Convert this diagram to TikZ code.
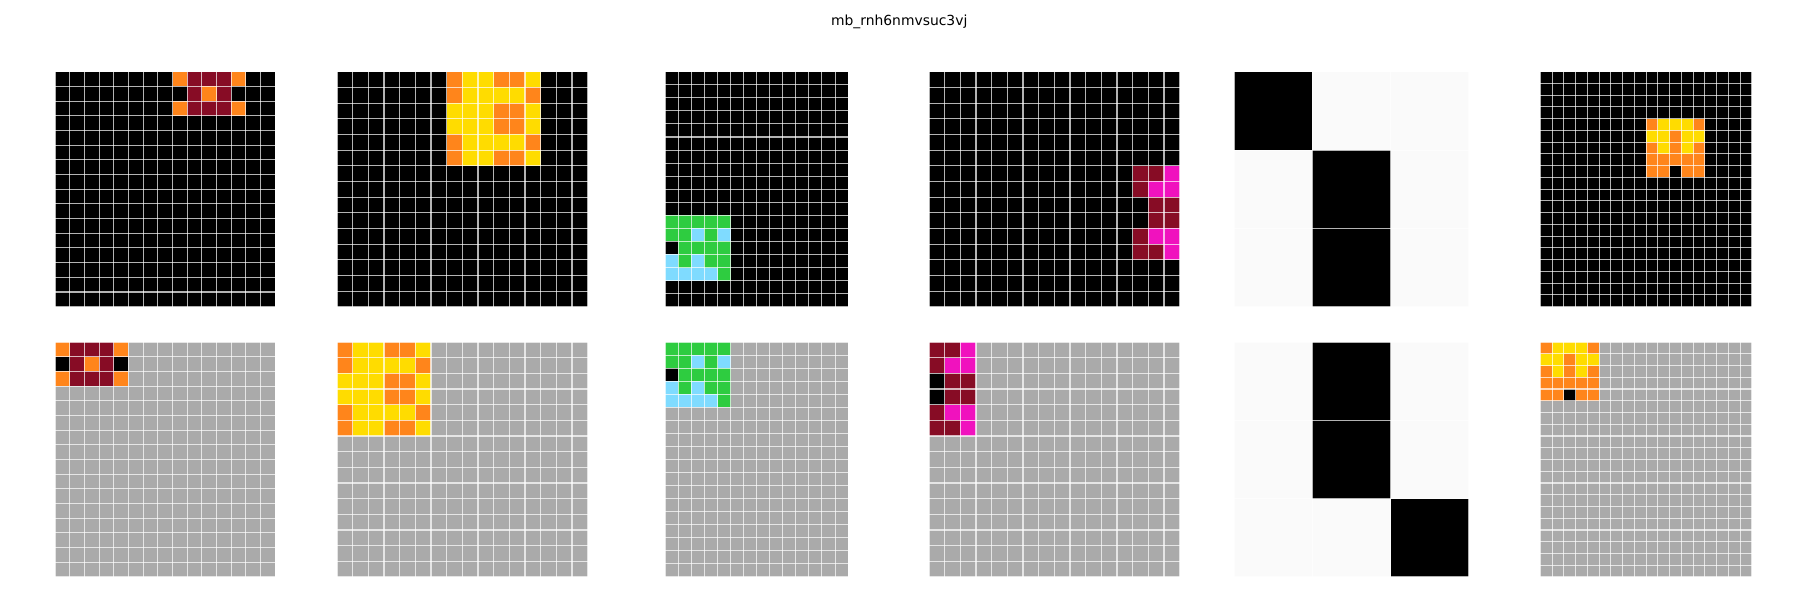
\documentclass[tikz,border=0pt]{standalone}
\usepackage{fontspec}
\setmainfont{DejaVu Sans}
\definecolor{arcK}{HTML}{000000}
\definecolor{arcN}{HTML}{870C25}
\definecolor{arcO}{HTML}{FF851B}
\definecolor{arcY}{HTML}{FFDC00}
\definecolor{arcG}{HTML}{2ECC40}
\definecolor{arcL}{HTML}{7FDBFF}
\definecolor{arcM}{HTML}{F012BE}
\definecolor{arcE}{HTML}{AAAAAA}
\definecolor{arcW}{HTML}{FAFAFA}
\tikzset{gridln/.style={draw=white,draw opacity=0.7,line width=0.75pt}}
\newcommand\arcpanel[9]{%
  \fill[fill=arc#6] (#1,#2) rectangle ({#1+#5*#3},{#2+#4*#3});
  \foreach \row [count=\i from #7] in {#9} {%
    \foreach \k [count=\j from #8] in \row {%
      \fill[fill=arc\k] ({#1+\j*#3},{#2+\i*#3}) rectangle ++(#3,#3);
    }%
  }%
  \foreach \i in {0,...,#5} \draw[gridln] ({#1+\i*#3},#2) -- ++(0,{#4*#3});
  \foreach \i in {0,...,#4} \draw[gridln] (#1,{#2+\i*#3}) -- ++({#5*#3},0);
}
\begin{document}
\begin{tikzpicture}[x=0.72pt,y=-0.72pt]
\fill[white] (0,0) rectangle (1800,600);
\useasboundingbox (0,0) rectangle (1800,600);
\node[font=\fontsize{10}{12}\selectfont,anchor=base,inner sep=0pt] (title) at (899.2,25) {mb\_rnh6nmvsuc3vj};
% panel 1
\arcpanel{55}{71.7}{14.6875}{16}{15}{K}{0}{8}{{O,N,N,N,O},{K,N,O,N,K},{O,N,N,N,O}}
\arcpanel{55}{342}{14.6875}{16}{15}{E}{0}{0}{{O,N,N,N,O},{K,N,O,N,K},{O,N,N,N,O}}
% panel 2
\arcpanel{337}{71.7}{15.6667}{15}{16}{K}{0}{7}{{O,Y,Y,O,O,Y},{O,Y,Y,Y,Y,O},{Y,Y,Y,O,O,Y},{Y,Y,Y,O,O,Y},{O,Y,Y,Y,Y,O},{O,Y,Y,O,O,Y}}
\arcpanel{337}{342}{15.6667}{15}{16}{E}{0}{0}{{O,Y,Y,O,O,Y},{O,Y,Y,Y,Y,O},{Y,Y,Y,O,O,Y},{Y,Y,Y,O,O,Y},{O,Y,Y,Y,Y,O},{O,Y,Y,O,O,Y}}
% panel 3
\arcpanel{665.3}{71.7}{13.0556}{18}{14}{K}{11}{0}{{G,G,G,G,G},{G,G,L,G,L},{K,G,G,G,G},{L,G,L,G,G},{L,L,L,L,G}}
\arcpanel{665.3}{342}{13.0556}{18}{14}{E}{0}{0}{{G,G,G,G,G},{G,G,L,G,L},{K,G,G,G,G},{L,G,L,G,G},{L,L,L,L,G}}
% panel 4
\arcpanel{929}{71.7}{15.6667}{15}{16}{K}{6}{13}{{N,N,M},{N,M,M},{K,N,N},{K,N,N},{N,M,M},{N,N,M}}
\arcpanel{929}{342}{15.6667}{15}{16}{E}{0}{0}{{N,N,M},{N,M,M},{K,N,N},{K,N,N},{N,M,M},{N,N,M}}
% panel 5
\arcpanel{1234}{71.7}{78.3333}{3}{3}{W}{0}{0}{{K,W,W},{W,K,W},{W,K,W}}
\arcpanel{1234}{342}{78.3333}{3}{3}{W}{0}{0}{{W,K,W},{W,K,W},{W,W,K}}
% panel 6
\arcpanel{1540.3}{71.7}{11.75}{20}{18}{K}{4}{9}{{O,Y,Y,Y,O},{Y,Y,O,Y,Y},{O,Y,O,Y,O},{O,O,O,O,O},{O,O,K,O,O}}
\arcpanel{1540.3}{342}{11.75}{20}{18}{E}{0}{0}{{O,Y,Y,Y,O},{Y,Y,O,Y,Y},{O,Y,O,Y,O},{O,O,O,O,O},{O,O,K,O,O}}
\end{tikzpicture}
\end{document}
